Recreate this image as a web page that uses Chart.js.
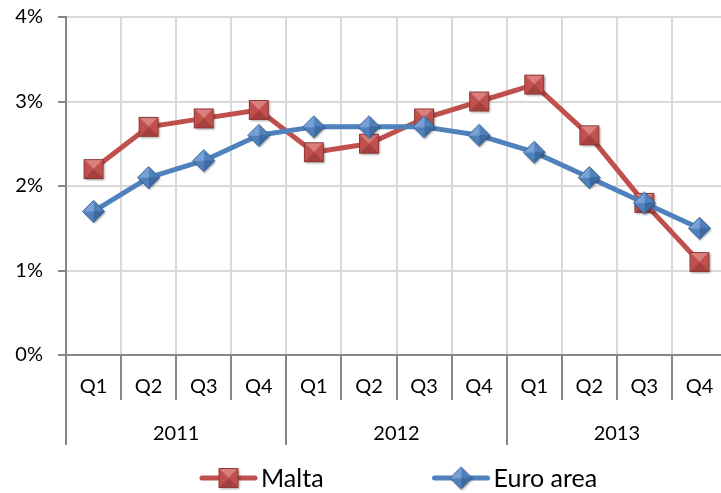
<!DOCTYPE html>
<html>
<head>
<meta charset="utf-8">
<script src="https://cdn.jsdelivr.net/npm/chart.js@4.4.1/dist/chart.umd.min.js"></script>
<style>
    html, body { margin: 0; padding: 0; background: #fff; overflow: hidden; }
    #contenedor { width: 728px; height: 493px; }
</style>
</head>
<body>
<div id="contenedor"><canvas id="grafico" width="728" height="493"></canvas></div>
<script>
// ===== Datos =====
const trimestres = ['Q1', 'Q2', 'Q3', 'Q4', 'Q1', 'Q2', 'Q3', 'Q4', 'Q1', 'Q2', 'Q3', 'Q4'];
const anios = ['2011', '2012', '2013'];
const malta = [2.2, 2.7, 2.8, 2.9, 2.4, 2.5, 2.8, 3.0, 3.2, 2.6, 1.8, 1.1];
const zonaEuro = [1.7, 2.1, 2.3, 2.6, 2.7, 2.7, 2.7, 2.6, 2.4, 2.1, 1.8, 1.5];
const ticksY = [0, 1, 2, 3, 4];

const FUENTE = 'Lato, "Open Sans", sans-serif';
const GRIS_EJE = '#868686';
const GRIS_GRID = '#d9d9d9';

// Marcador con biselado estilo Excel (cuadro o rombo) y sombra suave
function crearMarcador(forma, base, claro, oscuro, borde) {
    const lado = forma === 'cuadro' ? 20 : 23;
    const margen = 3;
    const c = document.createElement('canvas');
    c.width = lado + margen * 2; c.height = lado + margen * 2;
    const g = c.getContext('2d');
    g.translate(margen, margen);
    const m = lado / 2;
    const pts = forma === 'cuadro'
        ? [[0.5, 0.5], [lado - 0.5, 0.5], [lado - 0.5, lado - 0.5], [0.5, lado - 0.5]]
        : [[m, 0.5], [lado - 0.5, m], [m, lado - 0.5], [0.5, m]];
    const contorno = () => {
        g.beginPath();
        pts.forEach((p, i) => i ? g.lineTo(p[0], p[1]) : g.moveTo(p[0], p[1]));
        g.closePath();
    };
    // sombra
    g.save();
    g.shadowColor = 'rgba(0,0,0,0.35)';
    g.shadowBlur = 2;
    g.shadowOffsetX = 1;
    g.shadowOffsetY = 1.5;
    contorno(); g.fillStyle = base; g.fill();
    g.restore();

    const caras = forma === 'cuadro' ? [claro, base, oscuro, base] : [base, oscuro, base, claro];
    caras.forEach((color, i) => {
        const a = pts[i], b = pts[(i + 1) % 4];
        g.beginPath();
        g.moveTo(a[0], a[1]); g.lineTo(b[0], b[1]); g.lineTo(m, m); g.closePath();
        g.fillStyle = color; g.fill();
        g.strokeStyle = color; g.lineWidth = 0.6; g.stroke();
    });
    contorno();
    g.strokeStyle = borde; g.lineWidth = 1; g.stroke();
    return c;
}

const marcaMalta = crearMarcador('cuadro', '#c0504d', '#d97f7c', '#a4403d', '#8c3836');
const marcaEuro = crearMarcador('rombo', '#4f81bd', '#78a2d6', '#3c6aa1', '#385d8a');

// Los ejes no deben pedir margen extra al layout
function sinRelleno(s) {
    s.paddingTop = 0; s.paddingBottom = 0;
    s.paddingLeft = 0; s.paddingRight = 0;
}

// Leyenda dibujada a mano: línea + marcador + texto
const leyendaExcel = {
    id: 'leyendaExcel',
    afterDraw(chart) {
        const ctx = chart.ctx;
        const y = 478;
        let x = 200;
        ctx.save();
        ctx.font = '25px ' + FUENTE;
        ctx.textBaseline = 'middle';
        ctx.textAlign = 'left';
        chart.data.datasets.forEach(ds => {
            ctx.strokeStyle = ds.borderColor;
            ctx.lineWidth = 5;
            ctx.lineCap = 'round';
            ctx.beginPath(); ctx.moveTo(x + 2, y); ctx.lineTo(x + 55, y); ctx.stroke();
            const img = ds.pointStyle;
            ctx.drawImage(img, x + 28.5 - img.width / 2, y - img.height / 2);
            ctx.fillStyle = '#000';
            ctx.fillText(ds.label, x + 61, y + 1);
            x += 61 + ctx.measureText(ds.label).width + 109;
        });
        ctx.restore();
    }
};

new Chart(document.getElementById('grafico'), {
    type: 'line',
    data: {
        labels: trimestres,
        datasets: [
            {
                label: 'Malta',
                data: malta,
                borderColor: '#c0504d',
                borderWidth: 5,
                borderCapStyle: 'round',
                borderJoinStyle: 'round',
                pointStyle: marcaMalta,
                pointRadius: 10,
                tension: 0,
                order: 2
            },
            {
                label: 'Euro area',
                data: zonaEuro,
                borderColor: '#4f81bd',
                borderWidth: 5,
                borderCapStyle: 'round',
                borderJoinStyle: 'round',
                pointStyle: marcaEuro,
                pointRadius: 10,
                tension: 0,
                order: 1
            }
        ]
    },
    options: {
        responsive: false,
        animation: false,
        devicePixelRatio: 1,
        layout: { autoPadding: false, padding: { top: 17, right: 1, bottom: 48, left: 0 } },
        plugins: {
            legend: { display: false },
            tooltip: { enabled: false }
        },
        scales: {
            y: {
                min: 0,
                max: 4,
                afterBuildTicks: s => { s.ticks = ticksY.map(v => ({ value: v })); },
                afterFit: s => { s.width = 66; sinRelleno(s); },
                ticks: {
                    callback: v => v + '%',
                    color: '#000',
                    padding: 15,
                    font: { family: FUENTE, size: 20 }
                },
                grid: {
                    color: c => (c.tick && c.tick.value === 0) ? 'rgba(0,0,0,0)' : GRIS_GRID,
                    lineWidth: 2,
                    tickLength: 8,
                    tickColor: GRIS_EJE
                },
                border: { color: GRIS_EJE, width: 2 }
            },
            x: {
                offset: true,
                afterFit: s => { s.height = 45; sinRelleno(s); },
                ticks: {
                    color: '#000',
                    autoSkip: false,
                    maxRotation: 0,
                    padding: -25,
                    font: { family: FUENTE, size: 20 }
                },
                grid: {
                    offset: true,
                    color: c => c.index === 0 ? 'rgba(0,0,0,0)' : GRIS_GRID,
                    lineWidth: 2,
                    tickLength: 45,
                    tickColor: GRIS_EJE
                },
                border: { color: GRIS_EJE, width: 2 }
            },
            x2: {
                type: 'category',
                position: 'bottom',
                labels: anios,
                offset: true,
                afterFit: s => { s.height = 45; sinRelleno(s); },
                ticks: {
                    color: '#000',
                    autoSkip: false,
                    maxRotation: 0,
                    padding: -23,
                    font: { family: FUENTE, size: 20 }
                },
                grid: {
                    offset: true,
                    drawOnChartArea: false,
                    lineWidth: 2,
                    tickLength: 45,
                    tickColor: GRIS_EJE
                },
                border: { display: false }
            }
        }
    },
    plugins: [leyendaExcel]
});
</script>
</body>
</html>
